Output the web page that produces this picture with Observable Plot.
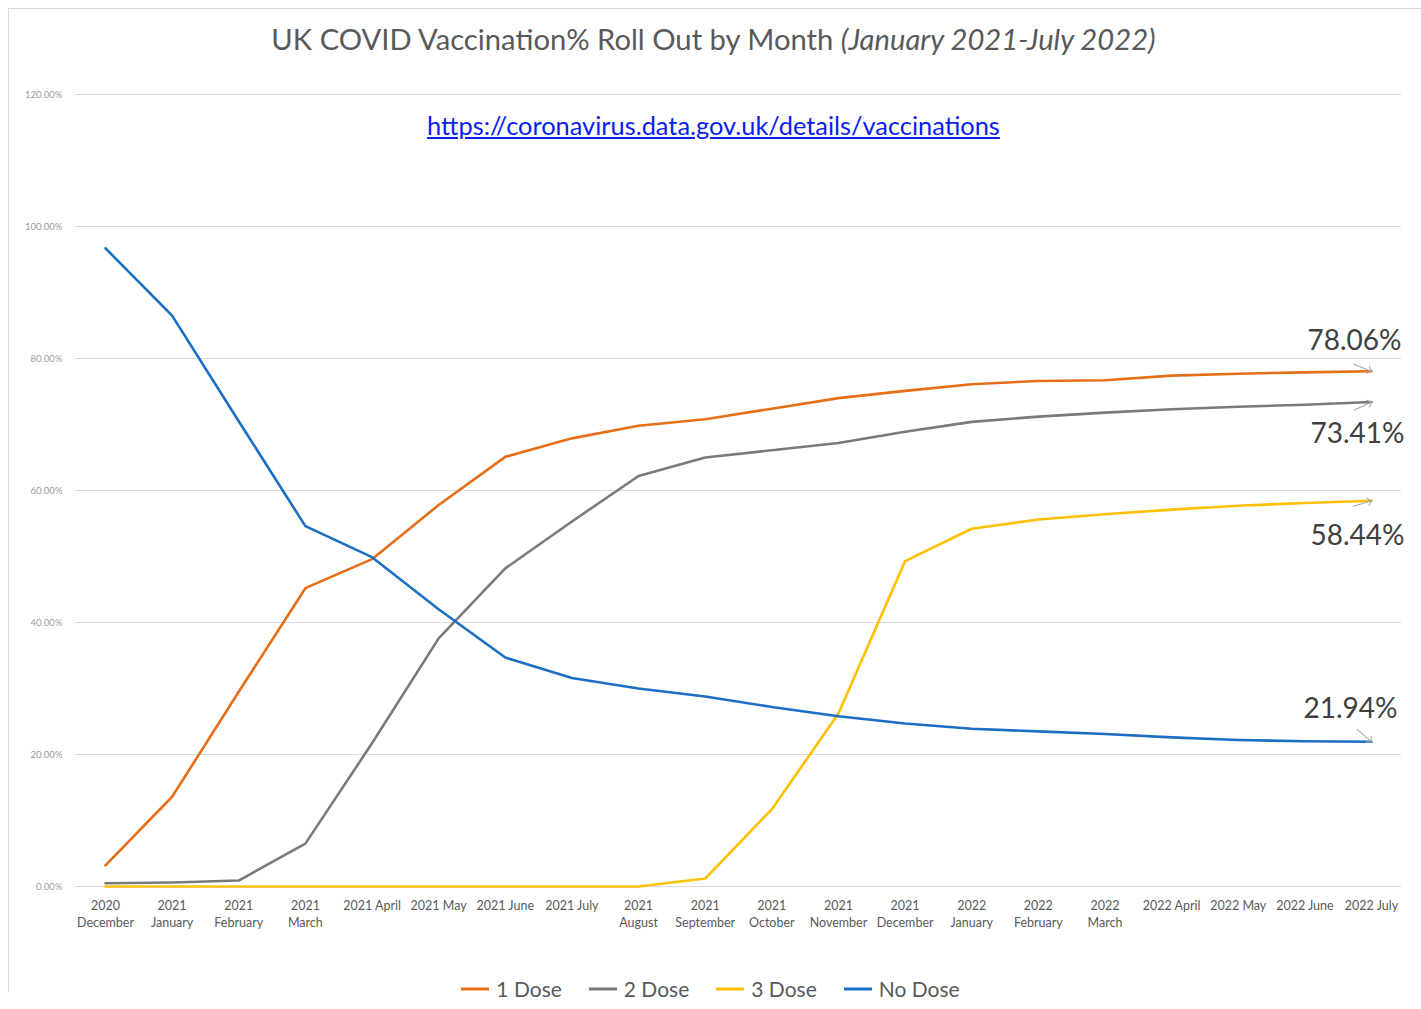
<!DOCTYPE html>
<html>
<head>
<meta charset="utf-8">
<script src="https://cdn.jsdelivr.net/npm/d3@7"></script>
<script src="https://cdn.jsdelivr.net/npm/@observablehq/plot@0.6"></script>
<style>
  html, body { margin: 0; padding: 0; background: #fff; }
  body { width: 1421px; height: 1009px; position: relative; overflow: hidden; font-family: Lato, "Open Sans", sans-serif; }
  #frame { position: absolute; left: 8px; top: 8px; width: 1420px; height: 984px; border-left: 1.5px solid #d9d9d9; border-top: 1.5px solid #d9d9d9; box-sizing: border-box; }
  #chart { position: absolute; left: 0; top: 0; }
  #title { position: absolute; left: 0; width: 1427px; top: 21px; text-align: center; font-size: 29.2px; color: #595959; white-space: nowrap; }
  #title i { font-style: italic; }
  #link { position: absolute; left: 0; width: 1427px; top: 110px; text-align: center; font-size: 25.4px; }
  #link a { color: #0a1ef0; text-decoration: underline; }
  #legend { position: absolute; left: 0; width: 1421px; top: 976px; display: flex; justify-content: center; gap: 27px; font-size: 21px; color: #595959; }
  #legend .item { display: flex; align-items: center; gap: 7px; }
</style>
</head>
<body>
<div id="frame"></div>
<div id="chart"></div>
<div id="title">UK COVID Vaccination% Roll Out by Month <i>(January 2021-July 2022)</i></div>
<div id="link"><a href="https://coronavirus.data.gov.uk/details/vaccinations">https://coronavirus.data.gov.uk/details/vaccinations</a></div>
<div id="legend"></div>
<script>
// ---- Data ----
const months = ["2020 December","2021 January","2021 February","2021 March","2021 April","2021 May","2021 June","2021 July","2021 August","2021 September","2021 October","2021 November","2021 December","2022 January","2022 February","2022 March","2022 April","2022 May","2022 June","2022 July"];
const tickLabels = ["2020\nDecember","2021\nJanuary","2021\nFebruary","2021\nMarch","2021 April","2021 May","2021 June","2021 July","2021\nAugust","2021\nSeptember","2021\nOctober","2021\nNovember","2021\nDecember","2022\nJanuary","2022\nFebruary","2022\nMarch","2022 April","2022 May","2022 June","2022 July"];
const seriesNames = ["1 Dose","2 Dose","3 Dose","No Dose"];
const dose1 = [3.2,13.6,29.5,45.2,49.6,57.8,65.1,67.9,69.8,70.8,72.4,74.0,75.1,76.1,76.6,76.7,77.4,77.7,77.9,78.06];
const dose2 = [0.5,0.6,0.9,6.5,21.7,37.6,48.2,55.3,62.2,65.0,66.1,67.2,68.9,70.4,71.2,71.8,72.3,72.7,73.0,73.41];
const dose3 = [0,0,0,0,0,0,0,0,0,1.2,11.7,26.2,49.3,54.2,55.6,56.4,57.1,57.7,58.1,58.44];
const noDose = [96.7,86.5,70.5,54.6,49.9,42.0,34.7,31.6,30.0,28.8,27.2,25.8,24.7,23.9,23.5,23.1,22.6,22.2,22.0,21.94];
const yTicks = [0,20,40,60,80,100,120];

// ---- Styles ----
const colors = ["#E66E17","#7A7A7A","#FFC000","#1C6EC4"];
const annotStyle = {
  "1 Dose":  {dx:-17, dy:-30, rotate:112},
  "2 Dose":  {dx:-14, dy:32,  rotate:65},
  "3 Dose":  {dx:-14, dy:35,  rotate:73},
  "No Dose": {dx:-21, dy:-33, rotate:130}
};

const seriesValues = [dose1, dose2, dose3, noDose];
const data = seriesNames.flatMap((s, si) => months.map((m, i) => ({series: s, month: m, value: seriesValues[si][i]})));
const lastMonth = months[months.length - 1];
const ends = data.filter(d => d.month === lastMonth);
const labelOf = new Map(months.map((m, i) => [m, tickLabels[i]]));

const annotMarks = ends.flatMap(d => {
  const st = annotStyle[d.series];
  return [
    Plot.vector([d], {x: "month", y: "value", anchor: "end", length: 19, rotate: st.rotate, stroke: "#a6a6a6", strokeWidth: 1}),
    Plot.text([d], {x: "month", y: "value", text: e => e.value.toFixed(2) + "%", dx: st.dx, dy: st.dy, fontSize: 28, fill: "#404040", fontFamily: "Lato, 'Open Sans', sans-serif"})
  ];
});

const chart = Plot.plot({
  width: 1421,
  height: 1009,
  marginLeft: 75,
  marginRight: 20,
  marginTop: 94,
  marginBottom: 123,
  style: {background: "transparent", fontFamily: "Lato, 'Open Sans', sans-serif"},
  x: {type: "point", domain: months, padding: 0.45, round: false, label: null},
  y: {domain: [0, 120], label: null},
  color: {domain: seriesNames, range: colors},
  marks: [
    Plot.gridY(yTicks, {stroke: "#dcdcdc", strokeOpacity: 1, strokeWidth: 1}),
    Plot.axisY(yTicks, {tickSize: 0, tickPadding: 13, tickFormat: d => d.toFixed(2) + "%", fontSize: 9.5, fill: "#9a9a9a", label: null}),
    Plot.axisX({tickSize: 0, tickPadding: 12, tickFormat: d => labelOf.get(d), fontSize: 12.5, lineHeight: 1.35, fill: "#595959", label: null}),
    Plot.line(data, {x: "month", y: "value", stroke: "series", z: "series", strokeWidth: 2.6}),
    ...annotMarks
  ]
});
document.getElementById("chart").appendChild(chart);

// ---- Legend ----
const legend = document.getElementById("legend");
seriesNames.forEach((s, i) => {
  const item = document.createElement("div");
  item.className = "item";
  item.innerHTML = `<svg width="28" height="6"><line x1="0" y1="3" x2="28" y2="3" stroke="${colors[i]}" stroke-width="3"/></svg><span>${s}</span>`;
  legend.appendChild(item);
});
</script>
</body>
</html>
